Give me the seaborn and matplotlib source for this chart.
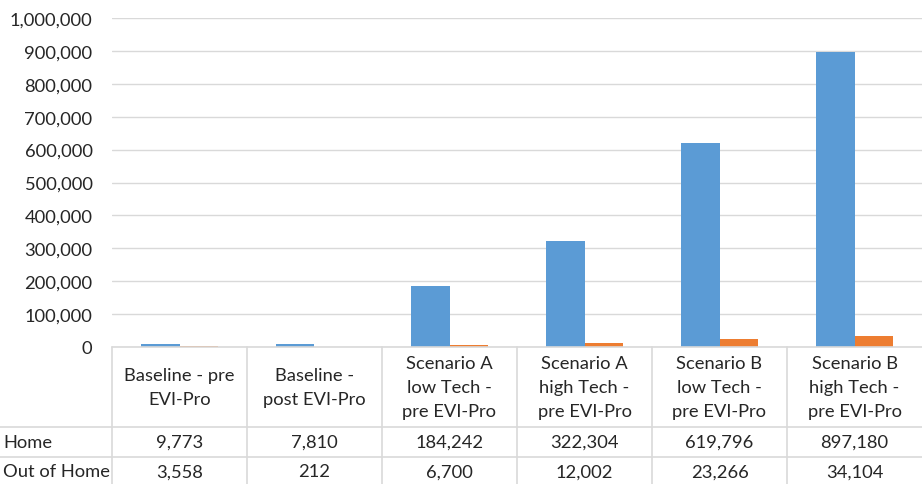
import matplotlib
matplotlib.use("Agg")
import matplotlib.pyplot as plt
from matplotlib.lines import Line2D
from matplotlib.transforms import blended_transform_factory
import pandas as pd
import seaborn as sns

# Chart data
categories = [
    "Baseline - pre\nEVI-Pro",
    "Baseline -\npost EVI-Pro",
    "Scenario A\nlow Tech -\npre EVI-Pro",
    "Scenario A\nhigh Tech -\npre EVI-Pro",
    "Scenario B\nlow Tech -\npre EVI-Pro",
    "Scenario B\nhigh Tech -\npre EVI-Pro",
]
home = [9773, 7810, 184242, 322304, 619796, 897180]
out_of_home = [3558, 212, 6700, 12002, 23266, 34104]
series_names = ["Home", "Out of Home"]
y_ticks = list(range(0, 1000001, 100000))

BLUE = "#5B9BD5"
ORANGE = "#ED7D31"
TEXT = "#262626"
GRID = "#D9D9D9"
FS = 13.2

sns.set_theme(style="white")
plt.rcParams["font.family"] = ["Lato", "DejaVu Sans"]
plt.rcParams["font.size"] = FS

W, H = 922, 485
fig = plt.figure(figsize=(W / 100, H / 100), dpi=100)
fig.patch.set_facecolor("white")


def fx(px):
    return px / W


def fy(py):
    return 1 - py / H


plot_left, plot_right, plot_top, plot_bottom = 112, 922, 19, 348
ax = fig.add_axes([fx(plot_left), fy(plot_bottom),
                   fx(plot_right - plot_left), (plot_bottom - plot_top) / H])

df = pd.DataFrame({
    "Category": categories * 2,
    "Value": home + out_of_home,
    "Series": [series_names[0]] * len(categories) + [series_names[1]] * len(categories),
})

sns.barplot(data=df, x="Category", y="Value", hue="Series", order=categories,
            hue_order=series_names, palette=[BLUE, ORANGE], width=0.57,
            saturation=1, legend=False, ax=ax, zorder=3,
            edgecolor="none", linewidth=0)

ax.set_xlim(-0.5, len(categories) - 0.5)
ax.set_ylim(0, 1000000)
ax.set_yticks(y_ticks)
ax.set_yticklabels([f"{v:,}" for v in y_ticks], color=TEXT, fontsize=FS)
ax.set_xticks([])
ax.set_xlabel("")
ax.set_ylabel("")
ax.tick_params(axis="y", length=0, pad=14)
ax.yaxis.grid(True, color=GRID, linewidth=1, zorder=0)
ax.set_axisbelow(True)
for s in ax.spines.values():
    s.set_visible(False)

# Data table beneath the plot
row_home, row_out = 428, 458
trans = blended_transform_factory(ax.transData, fig.transFigure)

lines = [
    Line2D([fx(plot_left), 1], [fy(plot_bottom)] * 2, transform=fig.transFigure),
    Line2D([0, 1], [fy(row_home)] * 2, transform=fig.transFigure),
    Line2D([0, 1], [fy(row_out)] * 2, transform=fig.transFigure),
]
for i in range(len(categories)):
    lines.append(Line2D([i - 0.5, i - 0.5], [fy(plot_bottom), 0], transform=trans))
for ln in lines:
    ln.set_color(GRID)
    ln.set_linewidth(1.2)
    ln.set_clip_on(False)
    fig.add_artist(ln)

for i, cat in enumerate(categories):
    fig.text(i, fy((plot_bottom + row_home) / 2), cat, transform=trans,
             ha="center", va="center", color=TEXT, fontsize=FS, linespacing=1.58)
    fig.text(i, fy((row_home + row_out) / 2), f"{home[i]:,}", transform=trans,
             ha="center", va="center", color=TEXT, fontsize=FS)
    fig.text(i, fy((row_out + H) / 2 + 1), f"{out_of_home[i]:,}", transform=trans,
             ha="center", va="center", color=TEXT, fontsize=FS)

fig.text(fx(3), fy((row_home + row_out) / 2), series_names[0],
         ha="left", va="center", color=TEXT, fontsize=FS)
fig.text(fx(3), fy((row_out + H) / 2 + 1), series_names[1],
         ha="left", va="center", color=TEXT, fontsize=FS)

fig.savefig("out.png", dpi=100, facecolor="white")
